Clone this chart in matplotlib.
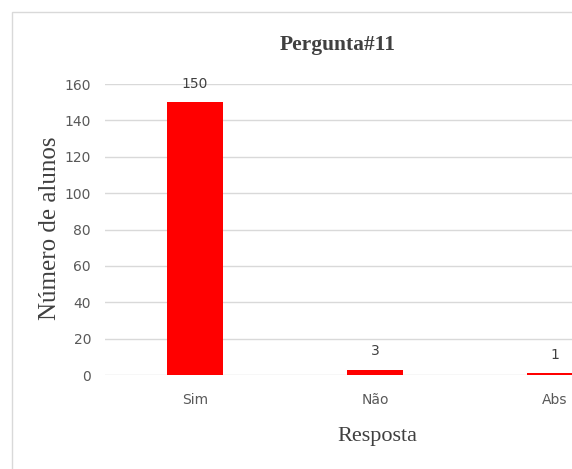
import matplotlib
matplotlib.use("Agg")
import matplotlib.pyplot as plt
from matplotlib.patches import Rectangle

# Data
categories = ["Sim", "Não", "Abs"]
values = [150, 3, 1]
yticks = [0, 20, 40, 60, 80, 100, 120, 140, 160]

W, H = 572, 469
fig = plt.figure(figsize=(W / 100, H / 100), dpi=100)

# chart-area border (cropped on the right and bottom, like the screenshot)
fig.patches.append(Rectangle((12 / W, -0.1), 2.0, 1 - 12 / H + 0.1,
                             transform=fig.transFigure, fill=False,
                             edgecolor="#d9d9d9", linewidth=1.0))

# plot area runs past the right edge of the image
ax = fig.add_axes([105 / W, (H - 375) / H, 540 / W, 291 / H])
x = range(len(categories))
bars = ax.bar(x, values, width=0.31, color="#ff0000", zorder=3)

ax.set_xlim(-0.5, len(categories) - 0.5)
ax.set_ylim(0, 160)
ax.set_yticks(yticks)
ax.set_xticks(list(x))
ax.set_xticklabels(categories)
ax.grid(axis="y", color="#d9d9d9", linewidth=1.0, zorder=0)
for s in ["top", "right", "left", "bottom"]:
    ax.spines[s].set_visible(False)
ax.tick_params(length=0, labelsize=10, colors="#595959", pad=13)
ax.tick_params(axis="y", pad=10)

for b, v in zip(bars, values):
    ax.annotate(str(v), (b.get_x() + b.get_width() / 2, b.get_height()),
                xytext=(0, 8), textcoords="offset points",
                ha="center", va="bottom", fontsize=10, color="#404040")

fig.text(338 / W, 1 - 45 / H, "Pergunta#11", ha="center", va="center",
         family="Liberation Serif", fontweight="bold", fontsize=15.5,
         color="#404040")
fig.text(50 / W, 1 - 228 / H, "Número de alunos", ha="center", va="center",
         rotation=90, family="Liberation Serif", fontsize=18,
         color="#404040")
fig.text(377 / W, 1 - 437 / H, "Resposta", ha="center", va="center",
         family="Liberation Serif", fontsize=16, color="#404040")

fig.savefig("out.png", dpi=100)
